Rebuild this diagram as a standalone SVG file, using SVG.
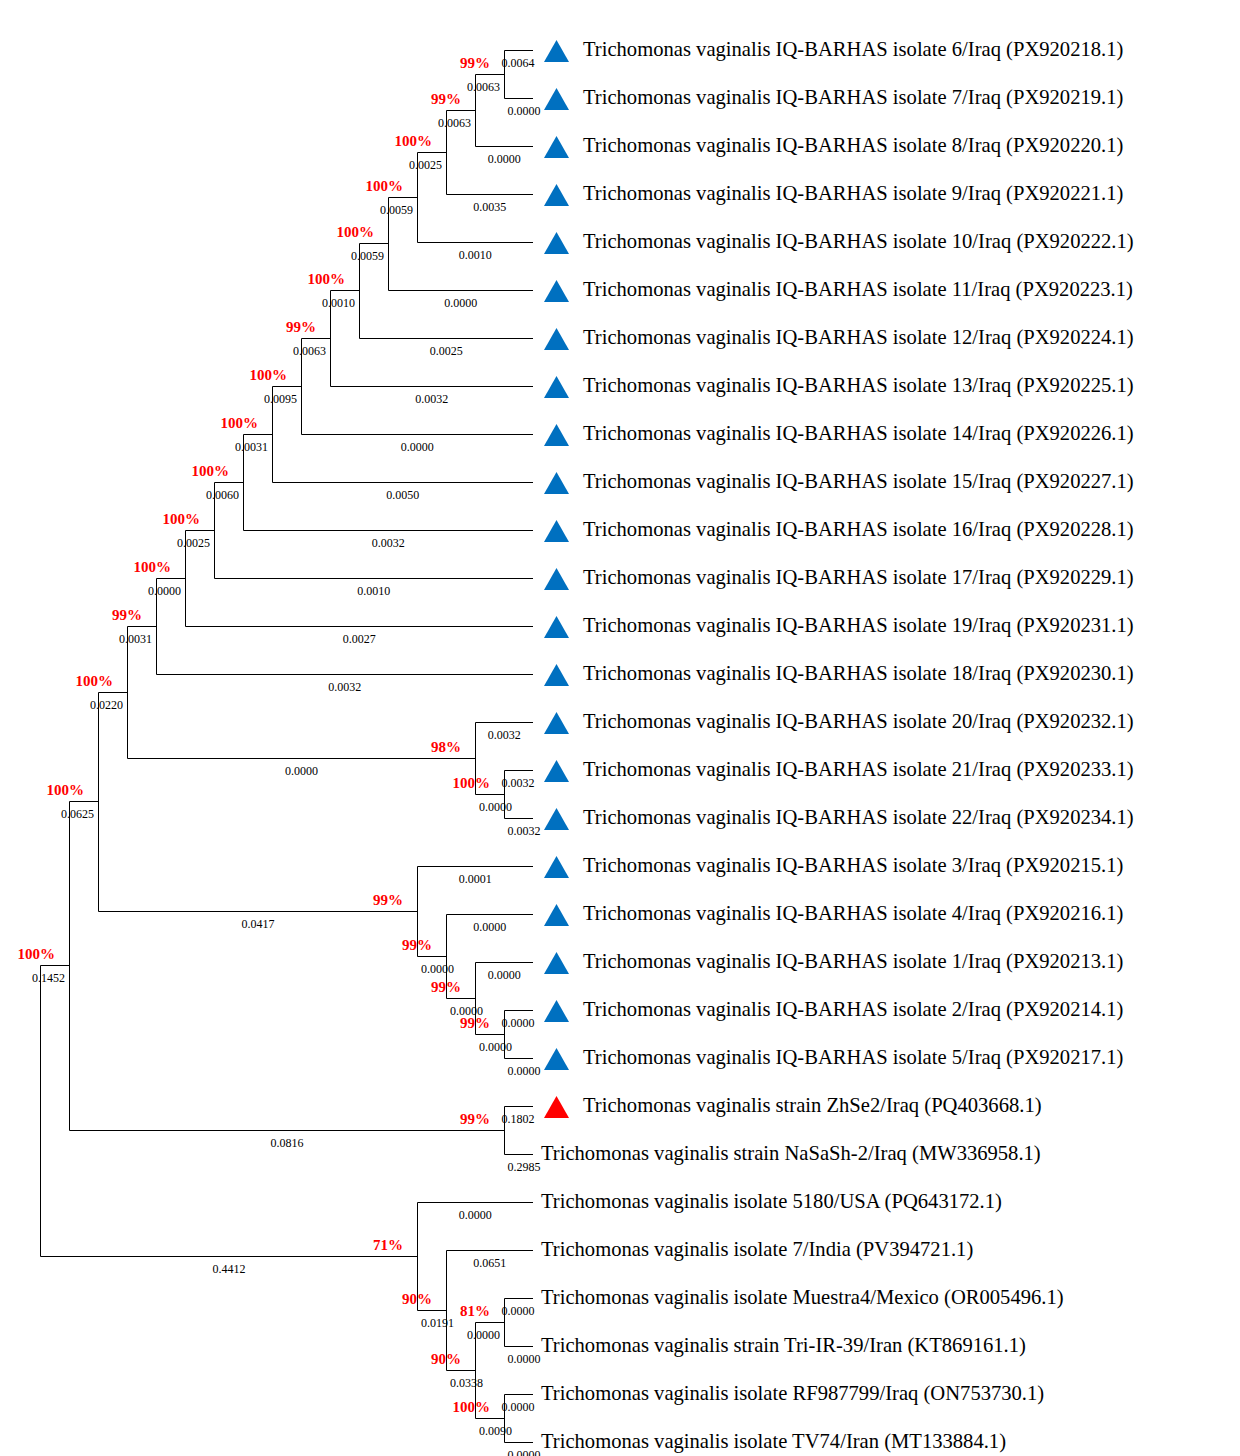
<svg xmlns="http://www.w3.org/2000/svg" width="1240" height="1456" viewBox="0 0 1240 1456">
<style>
.br{fill:none;stroke:#000;stroke-width:1}
.lf{font-family:"Liberation Serif","Times New Roman",serif;font-size:20.6px;fill:#000}
.bl{font-family:"Liberation Serif","Times New Roman",serif;font-size:12px;fill:#000;text-anchor:middle}
.bs{font-family:"Liberation Serif","Times New Roman",serif;font-size:15px;font-weight:bold;fill:#f00;text-anchor:end}
.tb{fill:#0070C0}
.tr{fill:#f00}
</style>
<defs><path id="tri" d="M0,-10.5 L12.5,11.5 L-12.5,11.5 Z"/></defs>
<rect width="1240" height="1456" fill="#fff"/>
<g id="connectors">
<path class="br" d="M533,50.5 H504.5 V98.5 H533"/>
<path class="br" d="M504.5,74.5 H475.5 V146.5 H533"/>
<path class="br" d="M475.5,110.5 H446.5 V194.5 H533"/>
<path class="br" d="M446.5,152.5 H417.5 V242.5 H533"/>
<path class="br" d="M417.5,197.5 H388.5 V290.5 H533"/>
<path class="br" d="M388.5,243.5 H359.5 V338.5 H533"/>
<path class="br" d="M359.5,290.5 H330.5 V386.5 H533"/>
<path class="br" d="M330.5,338.5 H301.5 V434.5 H533"/>
<path class="br" d="M301.5,386.5 H272.5 V482.5 H533"/>
<path class="br" d="M272.5,434.5 H243.5 V530.5 H533"/>
<path class="br" d="M243.5,482.5 H214.5 V578.5 H533"/>
<path class="br" d="M214.5,530.5 H185.5 V626.5 H533"/>
<path class="br" d="M185.5,578.5 H156.5 V674.5 H533"/>
<path class="br" d="M533,770.5 H504.5 V818.5 H533"/>
<path class="br" d="M533,722.5 H475.5 V794.5 H504.5"/>
<path class="br" d="M156.5,626.5 H127.5 V758.5 H475.5"/>
<path class="br" d="M533,1010.5 H504.5 V1058.5 H533"/>
<path class="br" d="M533,962.5 H475.5 V1034.5 H504.5"/>
<path class="br" d="M533,914.5 H446.5 V998.5 H475.5"/>
<path class="br" d="M533,866.5 H417.5 V956.5 H446.5"/>
<path class="br" d="M127.5,692.5 H98.5 V911.5 H417.5"/>
<path class="br" d="M533,1106.5 H504.5 V1154.5 H533"/>
<path class="br" d="M98.5,801.5 H69.5 V1130.5 H504.5"/>
<path class="br" d="M533,1394.5 H504.5 V1442.5 H533"/>
<path class="br" d="M533,1298.5 H504.5 V1346.5 H533"/>
<path class="br" d="M504.5,1322.5 H475.5 V1418.5 H504.5"/>
<path class="br" d="M533,1250.5 H446.5 V1370.5 H475.5"/>
<path class="br" d="M533,1202.5 H417.5 V1310.5 H446.5"/>
<path class="br" d="M69.5,965.5 H40.5 V1256.5 H417.5"/>
</g>
<g id="leaves">
<g id="leaf-iq6"><use href="#tri" class="tb" x="556.5" y="50.5"/><text class="lf" x="583" y="56">Trichomonas vaginalis IQ-BARHAS isolate 6/Iraq (PX920218.1)</text><text class="bl" x="518" y="67">0.0064</text></g>
<g id="leaf-iq7"><use href="#tri" class="tb" x="556.5" y="98.5"/><text class="lf" x="583" y="104">Trichomonas vaginalis IQ-BARHAS isolate 7/Iraq (PX920219.1)</text><text class="bl" x="524" y="115">0.0000</text></g>
<g id="leaf-iq8"><use href="#tri" class="tb" x="556.5" y="146.5"/><text class="lf" x="583" y="152">Trichomonas vaginalis IQ-BARHAS isolate 8/Iraq (PX920220.1)</text><text class="bl" x="504.3" y="163">0.0000</text></g>
<g id="leaf-iq9"><use href="#tri" class="tb" x="556.5" y="194.5"/><text class="lf" x="583" y="200">Trichomonas vaginalis IQ-BARHAS isolate 9/Iraq (PX920221.1)</text><text class="bl" x="489.8" y="211">0.0035</text></g>
<g id="leaf-iq10"><use href="#tri" class="tb" x="556.5" y="242.5"/><text class="lf" x="583" y="248">Trichomonas vaginalis IQ-BARHAS isolate 10/Iraq (PX920222.1)</text><text class="bl" x="475.3" y="259">0.0010</text></g>
<g id="leaf-iq11"><use href="#tri" class="tb" x="556.5" y="290.5"/><text class="lf" x="583" y="296">Trichomonas vaginalis IQ-BARHAS isolate 11/Iraq (PX920223.1)</text><text class="bl" x="460.8" y="307">0.0000</text></g>
<g id="leaf-iq12"><use href="#tri" class="tb" x="556.5" y="338.5"/><text class="lf" x="583" y="344">Trichomonas vaginalis IQ-BARHAS isolate 12/Iraq (PX920224.1)</text><text class="bl" x="446.3" y="355">0.0025</text></g>
<g id="leaf-iq13"><use href="#tri" class="tb" x="556.5" y="386.5"/><text class="lf" x="583" y="392">Trichomonas vaginalis IQ-BARHAS isolate 13/Iraq (PX920225.1)</text><text class="bl" x="431.8" y="403">0.0032</text></g>
<g id="leaf-iq14"><use href="#tri" class="tb" x="556.5" y="434.5"/><text class="lf" x="583" y="440">Trichomonas vaginalis IQ-BARHAS isolate 14/Iraq (PX920226.1)</text><text class="bl" x="417.3" y="451">0.0000</text></g>
<g id="leaf-iq15"><use href="#tri" class="tb" x="556.5" y="482.5"/><text class="lf" x="583" y="488">Trichomonas vaginalis IQ-BARHAS isolate 15/Iraq (PX920227.1)</text><text class="bl" x="402.8" y="499">0.0050</text></g>
<g id="leaf-iq16"><use href="#tri" class="tb" x="556.5" y="530.5"/><text class="lf" x="583" y="536">Trichomonas vaginalis IQ-BARHAS isolate 16/Iraq (PX920228.1)</text><text class="bl" x="388.3" y="547">0.0032</text></g>
<g id="leaf-iq17"><use href="#tri" class="tb" x="556.5" y="578.5"/><text class="lf" x="583" y="584">Trichomonas vaginalis IQ-BARHAS isolate 17/Iraq (PX920229.1)</text><text class="bl" x="373.8" y="595">0.0010</text></g>
<g id="leaf-iq19"><use href="#tri" class="tb" x="556.5" y="626.5"/><text class="lf" x="583" y="632">Trichomonas vaginalis IQ-BARHAS isolate 19/Iraq (PX920231.1)</text><text class="bl" x="359.3" y="643">0.0027</text></g>
<g id="leaf-iq18"><use href="#tri" class="tb" x="556.5" y="674.5"/><text class="lf" x="583" y="680">Trichomonas vaginalis IQ-BARHAS isolate 18/Iraq (PX920230.1)</text><text class="bl" x="344.8" y="691">0.0032</text></g>
<g id="leaf-iq20"><use href="#tri" class="tb" x="556.5" y="722.5"/><text class="lf" x="583" y="728">Trichomonas vaginalis IQ-BARHAS isolate 20/Iraq (PX920232.1)</text><text class="bl" x="504.3" y="739">0.0032</text></g>
<g id="leaf-iq21"><use href="#tri" class="tb" x="556.5" y="770.5"/><text class="lf" x="583" y="776">Trichomonas vaginalis IQ-BARHAS isolate 21/Iraq (PX920233.1)</text><text class="bl" x="518" y="787">0.0032</text></g>
<g id="leaf-iq22"><use href="#tri" class="tb" x="556.5" y="818.5"/><text class="lf" x="583" y="824">Trichomonas vaginalis IQ-BARHAS isolate 22/Iraq (PX920234.1)</text><text class="bl" x="524" y="835">0.0032</text></g>
<g id="leaf-iq3"><use href="#tri" class="tb" x="556.5" y="866.5"/><text class="lf" x="583" y="872">Trichomonas vaginalis IQ-BARHAS isolate 3/Iraq (PX920215.1)</text><text class="bl" x="475.3" y="883">0.0001</text></g>
<g id="leaf-iq4"><use href="#tri" class="tb" x="556.5" y="914.5"/><text class="lf" x="583" y="920">Trichomonas vaginalis IQ-BARHAS isolate 4/Iraq (PX920216.1)</text><text class="bl" x="489.8" y="931">0.0000</text></g>
<g id="leaf-iq1"><use href="#tri" class="tb" x="556.5" y="962.5"/><text class="lf" x="583" y="968">Trichomonas vaginalis IQ-BARHAS isolate 1/Iraq (PX920213.1)</text><text class="bl" x="504.3" y="979">0.0000</text></g>
<g id="leaf-iq2"><use href="#tri" class="tb" x="556.5" y="1010.5"/><text class="lf" x="583" y="1016">Trichomonas vaginalis IQ-BARHAS isolate 2/Iraq (PX920214.1)</text><text class="bl" x="518" y="1027">0.0000</text></g>
<g id="leaf-iq5"><use href="#tri" class="tb" x="556.5" y="1058.5"/><text class="lf" x="583" y="1064">Trichomonas vaginalis IQ-BARHAS isolate 5/Iraq (PX920217.1)</text><text class="bl" x="524" y="1075">0.0000</text></g>
<g id="leaf-zhse2"><use href="#tri" class="tr" x="556.5" y="1106.5"/><text class="lf" x="583" y="1112">Trichomonas vaginalis strain ZhSe2/Iraq (PQ403668.1)</text><text class="bl" x="518" y="1123">0.1802</text></g>
<g id="leaf-nasash2"><text class="lf" x="541" y="1160">Trichomonas vaginalis strain NaSaSh-2/Iraq (MW336958.1)</text><text class="bl" x="524" y="1171">0.2985</text></g>
<g id="leaf-usa5180"><text class="lf" x="541" y="1208">Trichomonas vaginalis isolate 5180/USA (PQ643172.1)</text><text class="bl" x="475.3" y="1219">0.0000</text></g>
<g id="leaf-india7"><text class="lf" x="541" y="1256">Trichomonas vaginalis isolate 7/India (PV394721.1)</text><text class="bl" x="489.8" y="1267">0.0651</text></g>
<g id="leaf-muestra4"><text class="lf" x="541" y="1304">Trichomonas vaginalis isolate Muestra4/Mexico (OR005496.1)</text><text class="bl" x="518" y="1315">0.0000</text></g>
<g id="leaf-triir39"><text class="lf" x="541" y="1352">Trichomonas vaginalis strain Tri-IR-39/Iran (KT869161.1)</text><text class="bl" x="524" y="1363">0.0000</text></g>
<g id="leaf-rf987799"><text class="lf" x="541" y="1400">Trichomonas vaginalis isolate RF987799/Iraq (ON753730.1)</text><text class="bl" x="518" y="1411">0.0000</text></g>
<g id="leaf-tv74"><text class="lf" x="541" y="1448">Trichomonas vaginalis isolate TV74/Iran (MT133884.1)</text><text class="bl" x="524" y="1459">0.0000</text></g>
</g>
<g id="internal-nodes">
<g id="node-a"><text class="bs" x="490" y="68">99%</text><text class="bl" x="483.5" y="91">0.0063</text></g>
<g id="node-b"><text class="bs" x="461" y="104">99%</text><text class="bl" x="454.5" y="127">0.0063</text></g>
<g id="node-c"><text class="bs" x="432" y="146">100%</text><text class="bl" x="425.5" y="169">0.0025</text></g>
<g id="node-d"><text class="bs" x="403" y="191">100%</text><text class="bl" x="396.5" y="214">0.0059</text></g>
<g id="node-e"><text class="bs" x="374" y="237">100%</text><text class="bl" x="367.5" y="260">0.0059</text></g>
<g id="node-f"><text class="bs" x="345" y="284">100%</text><text class="bl" x="338.5" y="307">0.0010</text></g>
<g id="node-g"><text class="bs" x="316" y="332">99%</text><text class="bl" x="309.5" y="355">0.0063</text></g>
<g id="node-h"><text class="bs" x="287" y="380">100%</text><text class="bl" x="280.5" y="403">0.0095</text></g>
<g id="node-i"><text class="bs" x="258" y="428">100%</text><text class="bl" x="251.5" y="451">0.0031</text></g>
<g id="node-j"><text class="bs" x="229" y="476">100%</text><text class="bl" x="222.5" y="499">0.0060</text></g>
<g id="node-k"><text class="bs" x="200" y="524">100%</text><text class="bl" x="193.5" y="547">0.0025</text></g>
<g id="node-l"><text class="bs" x="171" y="572">100%</text><text class="bl" x="164.5" y="595">0.0000</text></g>
<g id="node-m"><text class="bs" x="142" y="620">99%</text><text class="bl" x="135.5" y="643">0.0031</text></g>
<g id="node-n"><text class="bs" x="113" y="686">100%</text><text class="bl" x="106.5" y="709">0.0220</text></g>
<g id="node-o"><text class="bs" x="84" y="795">100%</text><text class="bl" x="77.5" y="818">0.0625</text></g>
<g id="node-p"><text class="bs" x="55" y="959">100%</text><text class="bl" x="48.5" y="982">0.1452</text></g>
<g id="node-r"><text class="bs" x="461" y="752">98%</text><text class="bl" x="301.5" y="775">0.0000</text></g>
<g id="node-s"><text class="bs" x="490" y="788">100%</text><text class="bl" x="495.5" y="811">0.0000</text></g>
<g id="node-t"><text class="bs" x="403" y="905">99%</text><text class="bl" x="258" y="928">0.0417</text></g>
<g id="node-u"><text class="bs" x="432" y="950">99%</text><text class="bl" x="437.5" y="973">0.0000</text></g>
<g id="node-v"><text class="bs" x="461" y="992">99%</text><text class="bl" x="466.5" y="1015">0.0000</text></g>
<g id="node-w"><text class="bs" x="490" y="1028">99%</text><text class="bl" x="495.5" y="1051">0.0000</text></g>
<g id="node-x"><text class="bs" x="490" y="1124">99%</text><text class="bl" x="287" y="1147">0.0816</text></g>
<g id="node-y"><text class="bs" x="403" y="1250">71%</text><text class="bl" x="229" y="1273">0.4412</text></g>
<g id="node-z"><text class="bs" x="432" y="1304">90%</text><text class="bl" x="437.5" y="1327">0.0191</text></g>
<g id="node-aa"><text class="bs" x="461" y="1364">90%</text><text class="bl" x="466.5" y="1387">0.0338</text></g>
<g id="node-ab"><text class="bs" x="490" y="1316">81%</text><text class="bl" x="483.5" y="1339">0.0000</text></g>
<g id="node-ac"><text class="bs" x="490" y="1412">100%</text><text class="bl" x="495.5" y="1435">0.0090</text></g>
</g>
</svg>
